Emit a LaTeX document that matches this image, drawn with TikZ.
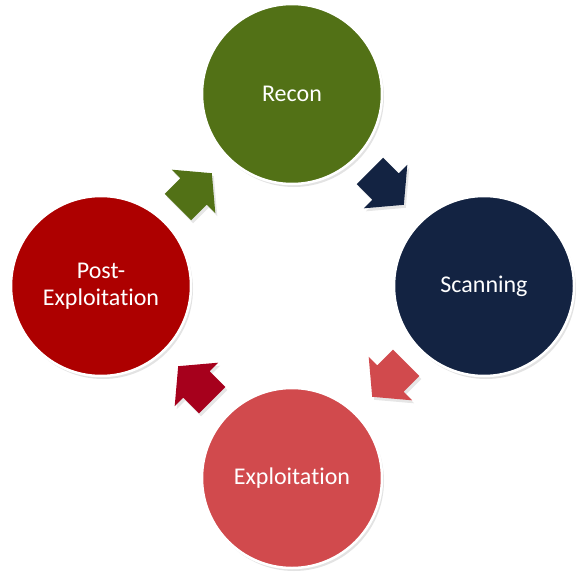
\documentclass[tikz,border=0pt]{standalone}
\usepackage{fontspec}
\setmainfont{Carlito}[RawFeature={-liga;-clig;-calt;-dlig}]
\usetikzlibrary{shapes,shadows,positioning}
\definecolor{reconGreen}{HTML}{527116}
\definecolor{scanNavy}{HTML}{132342}
\definecolor{exploitRed}{HTML}{D14A4D}
\definecolor{postRed}{HTML}{AD0000}
\definecolor{postArrow}{HTML}{A6001C}

\begin{document}
\begin{tikzpicture}[x=1pt,y=-1pt]
\tikzstyle{phase}=[draw=white, line width=2.5pt, shape=circle, minimum size=180pt, inner sep=0pt, text=white, align=center, font=\fontsize{24}{27}\selectfont, drop shadow={shadow xshift=2pt, shadow yshift=-3pt, opacity=.22}]
\tikzstyle{cyclearrow}=[shape=single arrow, anchor=tip, minimum height=48pt, minimum width=61pt, single arrow head extend=12pt, single arrow tip angle=100, inner xsep=0pt, inner ysep=18.5pt, drop shadow={shadow xshift=2pt, shadow yshift=-3pt, opacity=.2}]
\useasboundingbox (0,0) rectangle (583,583);
\node[phase, fill=reconGreen] (recon) at (292,94) {Recon};
\node[phase, fill=scanNavy] (scan) at (484,286) {Scanning};
\node[phase, fill=exploitRed] (exploit) at (292,478) {Exploitation};
\node[phase, fill=postRed] (post) at (101,286) {Post-\\Exploitation};

% arrows placed by their tips
\node[cyclearrow, fill=scanNavy, rotate=-45] (a1) at (404,205) {};
\node[cyclearrow, fill=exploitRed, rotate=-135] (a2) at (372,397) {};
\node[cyclearrow, fill=postArrow, rotate=135] (a3) at (178,366) {};
\node[cyclearrow, fill=reconGreen, rotate=45] (a4) at (212,173) {};

\end{tikzpicture}
\end{document}
